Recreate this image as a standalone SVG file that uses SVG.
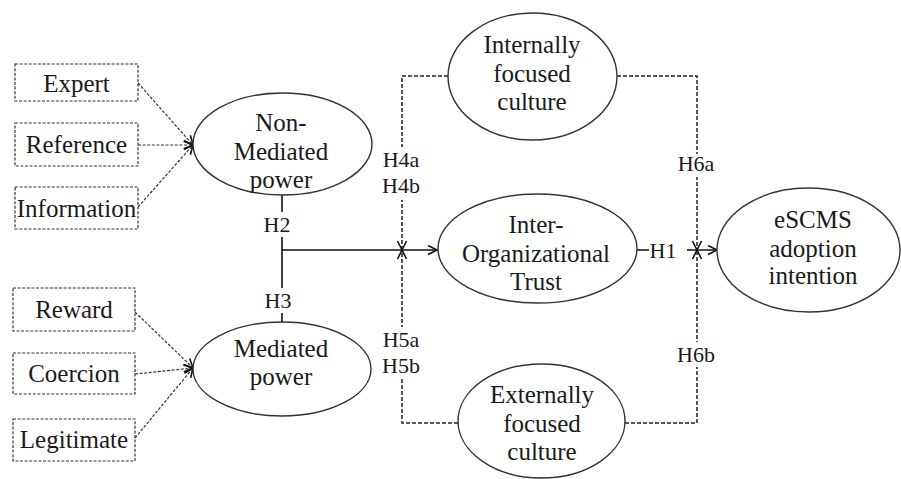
<svg xmlns="http://www.w3.org/2000/svg" width="901" height="479" viewBox="0 0 901 479" font-family="Liberation Serif, Times New Roman, serif">
<style>
text{fill:#1a1a1a;text-anchor:middle}
.n{font-size:25px}
.h{font-size:22px}
.box{fill:#fff;stroke:#333;stroke-width:1.2;stroke-dasharray:3 1.6}
.ell{fill:#fff;stroke:#333;stroke-width:1.4}
.solid{fill:none;stroke:#111;stroke-width:1.6}
.dash{fill:none;stroke:#222;stroke-width:1.5;stroke-dasharray:4 2}
.fine{fill:none;stroke:#333;stroke-width:1.2;stroke-dasharray:3 1.6}
.lbl{fill:#fff;stroke:none}
</style>
<defs>
<marker id="ah" markerUnits="userSpaceOnUse" markerWidth="14" markerHeight="12" refX="10" refY="6" orient="auto" viewBox="0 0 14 12">
<path d="M1,1.5 L10,6 L1,10.5" fill="none" stroke="#111" stroke-width="1.6" stroke-dasharray="none"/>
</marker>
</defs>
<rect width="901" height="479" fill="#fff"/>
<g id="connectors">
<line class="fine" x1="138" y1="83" x2="193" y2="145" marker-end="url(#ah)"/>
<line class="fine" x1="138" y1="145" x2="193" y2="145" marker-end="url(#ah)"/>
<line class="fine" x1="138" y1="207" x2="193" y2="145" marker-end="url(#ah)"/>
<line class="fine" x1="135" y1="312" x2="193" y2="368" marker-end="url(#ah)"/>
<line class="fine" x1="135" y1="374" x2="193" y2="368" marker-end="url(#ah)"/>
<line class="fine" x1="135" y1="438" x2="193" y2="368" marker-end="url(#ah)"/>
<path class="solid" d="M282,195 V322"/>
<path class="solid" d="M282,250 H437" marker-end="url(#ah)"/>
<path class="dash" d="M448,76 H402 V250" marker-end="url(#ah)"/>
<path class="dash" d="M458,423 H402 V250" marker-end="url(#ah)"/>
<path class="dash" d="M617,76 H697 V250" marker-end="url(#ah)"/>
<path class="dash" d="M625,423 H697 V250" marker-end="url(#ah)"/>
<path class="solid" d="M637,250 H717" marker-end="url(#ah)"/>
<rect class="lbl" x="262" y="212" width="32" height="25"/>
<text class="h" x="277" y="232">H2</text>
<rect class="lbl" x="262" y="288" width="32" height="25"/>
<text class="h" x="278" y="308">H3</text>
<rect class="lbl" x="380" y="147" width="45" height="53"/>
<text class="h" x="401" y="167">H4a</text>
<text class="h" x="401" y="193">H4b</text>
<rect class="lbl" x="380" y="327" width="45" height="50"/>
<text class="h" x="401" y="347">H5a</text>
<text class="h" x="401" y="373">H5b</text>
<rect class="lbl" x="676" y="154" width="40" height="23"/>
<text class="h" x="696" y="171">H6a</text>
<rect class="lbl" x="676" y="342" width="40" height="25"/>
<text class="h" x="696" y="362">H6b</text>
<rect class="lbl" x="649" y="238" width="38" height="25"/>
<text class="h" x="663" y="258">H1</text>
</g>
<g id="expert"><rect class="box" x="15" y="64" width="123" height="37"/><text class="n" x="76.5" y="91.5">Expert</text></g>
<g id="reference"><rect class="box" x="15" y="123" width="123" height="43"/><text class="n" x="76.5" y="153">Reference</text></g>
<g id="information"><rect class="box" x="15" y="187" width="123" height="42"/><text class="n" x="76.5" y="217">Information</text></g>
<g id="reward"><rect class="box" x="13" y="288" width="122" height="43"/><text class="n" x="74" y="318">Reward</text></g>
<g id="coercion"><rect class="box" x="13" y="353" width="122" height="41"/><text class="n" x="74" y="382">Coercion</text></g>
<g id="legitimate"><rect class="box" x="13" y="419" width="122" height="42"/><text class="n" x="74" y="448">Legitimate</text></g>
<g id="nonmediated"><ellipse class="ell" cx="282.5" cy="144" rx="89.5" ry="51"/><text class="n" x="281" y="131">Non-</text><text class="n" x="281" y="160">Mediated</text><text class="n" x="281" y="188">power</text></g>
<g id="mediated"><ellipse class="ell" cx="282" cy="369" rx="89" ry="47"/><text class="n" x="281" y="357">Mediated</text><text class="n" x="281" y="385">power</text></g>
<g id="internal"><ellipse class="ell" cx="532.5" cy="76.5" rx="84.5" ry="63.5"/><text class="n" x="532" y="53">Internally</text><text class="n" x="532" y="82">focused</text><text class="n" x="532" y="110">culture</text></g>
<g id="trust"><ellipse class="ell" cx="537.5" cy="248.5" rx="99.5" ry="54.5"/><text class="n" x="536" y="233">Inter-</text><text class="n" x="536" y="262">Organizational</text><text class="n" x="536" y="290">Trust</text></g>
<g id="external"><ellipse class="ell" cx="541.5" cy="421" rx="83.5" ry="57"/><text class="n" x="542" y="403">Externally</text><text class="n" x="542" y="432">focused</text><text class="n" x="542" y="460">culture</text></g>
<g id="escms"><ellipse class="ell" cx="808.5" cy="250" rx="91.5" ry="62"/><text class="n" x="813" y="228">eSCMS</text><text class="n" x="813" y="257">adoption</text><text class="n" x="813" y="284">intention</text></g>
</svg>
